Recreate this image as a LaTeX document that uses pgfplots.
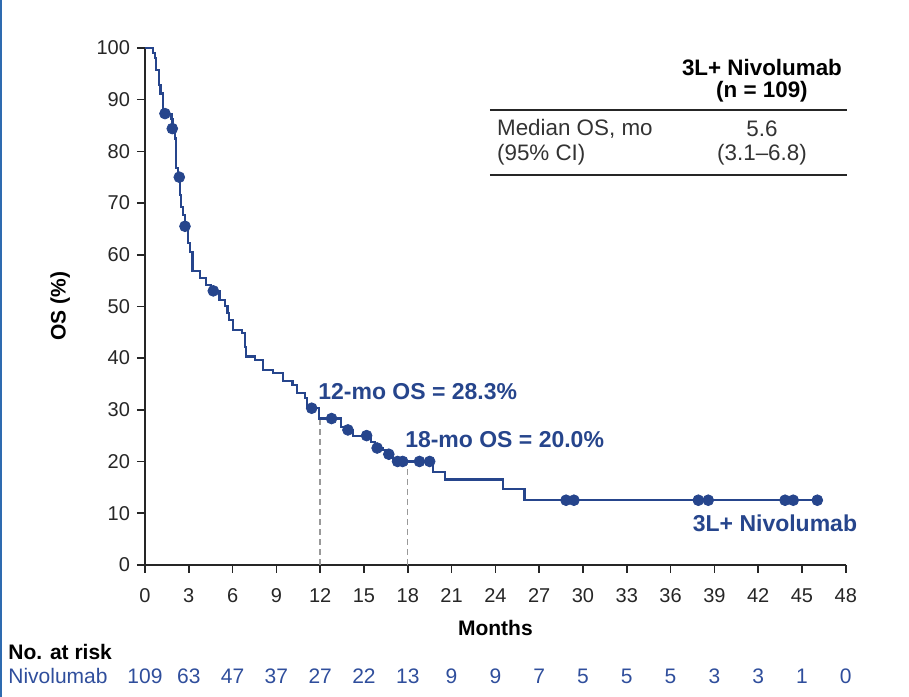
\documentclass[border=0pt]{standalone}
\usepackage{fontspec}
\setmainfont{Liberation Sans}
\usepackage{pgfplots}
\usepackage{pgfplotstable}
\pgfplotsset{compat=1.18}

\definecolor{kmblue}{HTML}{26458C}
\definecolor{riskblue}{HTML}{2F4E9C}
\definecolor{edgeblue}{HTML}{2E6BB0}
\definecolor{axisgray}{HTML}{262626}

% Kaplan-Meier estimate (step function: value after each event)
\pgfplotstableread{
t S
0 100
0.57 99.0
0.68 98.0
0.75 95.7
0.98 92.8
1.07 91.2
1.21 90.3
1.25 88.0
1.32 87.3
1.82 86.3
1.89 84.4
2.05 82.5
2.10 80.0
2.12 76.7
2.28 75.0
2.40 71.5
2.44 69.3
2.62 67.7
2.72 65.5
2.78 64.8
2.97 62.2
3.08 60.6
3.26 56.9
3.77 55.5
4.18 54.2
4.50 53.0
5.10 51.3
5.50 50.0
5.65 48.7
5.75 47.4
6.02 45.5
6.62 44.9
6.85 42.2
6.90 40.3
7.53 39.6
8.08 37.7
8.77 37.1
9.45 35.5
10.10 34.8
10.40 33.3
10.96 32.3
11.10 30.3
11.90 28.3
13.45 26.7
13.70 26.1
14.25 25.0
15.50 23.8
15.75 22.6
16.30 22.2
16.55 21.4
17.00 20.3
17.20 20.0
19.75 18.0
20.55 16.5
24.50 14.6
26.00 12.5
46.05 12.5
}\kmcurve

% censored observations
\pgfplotstableread{
t S
1.37 87.3
1.87 84.4
2.35 75.0
2.74 65.5
4.68 53.0
11.42 30.3
12.78 28.3
13.90 26.1
15.18 25.0
15.90 22.6
16.70 21.4
17.30 20.0
17.65 20.0
18.80 20.0
19.50 20.0
28.84 12.5
29.38 12.5
37.90 12.5
38.58 12.5
43.84 12.5
44.40 12.5
46.05 12.5
}\kmcensor

\begin{document}
\begin{tikzpicture}[
  risk/.style={font=\fontsize{10.5}{12}\selectfont, text=riskblue, inner sep=0pt},
  tabtxt/.style={font=\fontsize{11.2}{13}\selectfont, text=black!80, inner sep=0pt},
  tabhead/.style={font=\fontsize{11.2}{13}\selectfont\bfseries, inner sep=0pt},
  annot/.style={text=kmblue, font=\fontsize{11.5}{13}\selectfont\bfseries, inner sep=0pt},
]
\begin{axis}[
  scale only axis,
  width=350.5pt, height=258.5pt,
  xmin=0, xmax=48, ymin=0, ymax=100,
  axis x line=bottom, axis y line=left,
  axis line style={-, line width=0.8pt, axisgray},
  xtick={0,3,...,48}, ytick={0,10,...,100},
  tick align=outside, major tick length=4pt,
  tick style={line width=0.8pt, axisgray},
  tick label style={font=\fontsize{10}{12}\selectfont, text=black!85},
  xticklabel style={yshift=-4.5pt},
  /pgf/number format/assume math mode=true,
  clip=false,
]
  % reference lines at 12 and 18 months
  \addplot[gray!80, line width=0.7pt, dash pattern=on 3pt off 2pt] coordinates {(12,0) (12,28.3)};
  \addplot[gray!80, line width=0.7pt, dash pattern=on 3pt off 2pt] coordinates {(18,0) (18,20.0)};

  \addplot[const plot, kmblue, line width=1.1pt] table[x=t, y=S] {\kmcurve};
  \addplot[only marks, mark=*, mark size=2.7pt, kmblue] table[x=t, y=S] {\kmcensor};

  % annotations
  \node[anchor=west, annot] at (axis cs:11.85,33.5) {12-mo OS = 28.3\%};
  \node[anchor=west, annot] at (axis cs:17.8,24.2) {18-mo OS = 20.0\%};
  \node[anchor=east, annot] at (axis cs:48.8,8.1) {3L+ Nivolumab};

  % axis titles
  \node[rotate=90, font=\fontsize{10.5}{12}\selectfont\bfseries, inner sep=0pt] at (axis cs:-5.8,50) {OS (\%)};
  \node[font=\fontsize{10.5}{12}\selectfont\bfseries, inner sep=0pt] at (axis cs:24,-12.2) {Months};

  % summary table
  \node[tabhead] at (axis cs:42.26,96.3) {3L+ Nivolumab};
  \node[tabhead] at (axis cs:42.26,91.5) {(n = 109)};
  \draw[line width=0.8pt, axisgray] (axis cs:23.63,88) -- (axis cs:48.06,88);
  \node[anchor=west, tabtxt] at (axis cs:24.09,84.4) {Median OS, mo};
  \node[anchor=west, tabtxt] at (axis cs:24.09,79.4) {(95\% CI)};
  \node[tabtxt] at (axis cs:42.26,84.4) {5.6};
  \node[tabtxt] at (axis cs:42.26,79.4) {(3.1--6.8)};
  \draw[line width=0.8pt, axisgray] (axis cs:23.63,75.4) -- (axis cs:48.06,75.4);

  % number at risk
  \node[anchor=west, font=\fontsize{10.5}{12}\selectfont\bfseries, inner sep=0pt] at (axis cs:-9.38,-16.8) {No. at risk};
  \node[anchor=west, risk] at (axis cs:-9.38,-21.5) {Nivolumab};
  \node[risk] at (axis cs:0,-21.5) {109};
  \node[risk] at (axis cs:3,-21.5) {63};
  \node[risk] at (axis cs:6,-21.5) {47};
  \node[risk] at (axis cs:9,-21.5) {37};
  \node[risk] at (axis cs:12,-21.5) {27};
  \node[risk] at (axis cs:15,-21.5) {22};
  \node[risk] at (axis cs:18,-21.5) {13};
  \node[risk] at (axis cs:21,-21.5) {9};
  \node[risk] at (axis cs:24,-21.5) {9};
  \node[risk] at (axis cs:27,-21.5) {7};
  \node[risk] at (axis cs:30,-21.5) {5};
  \node[risk] at (axis cs:33,-21.5) {5};
  \node[risk] at (axis cs:36,-21.5) {5};
  \node[risk] at (axis cs:39,-21.5) {3};
  \node[risk] at (axis cs:42,-21.5) {3};
  \node[risk] at (axis cs:45,-21.5) {1};
  \node[risk] at (axis cs:48,-21.5) {0};

  \coordinate (bbA) at (axis cs:-9.93,-25.53);
  \coordinate (bbB) at (axis cs:52.33,109.28);
\end{axis}
\fill[edgeblue] (bbA) rectangle ([xshift=1pt]bbA |- bbB);
\pgfresetboundingbox
\path[use as bounding box] (bbA) rectangle (bbB);
\end{tikzpicture}
\end{document}
